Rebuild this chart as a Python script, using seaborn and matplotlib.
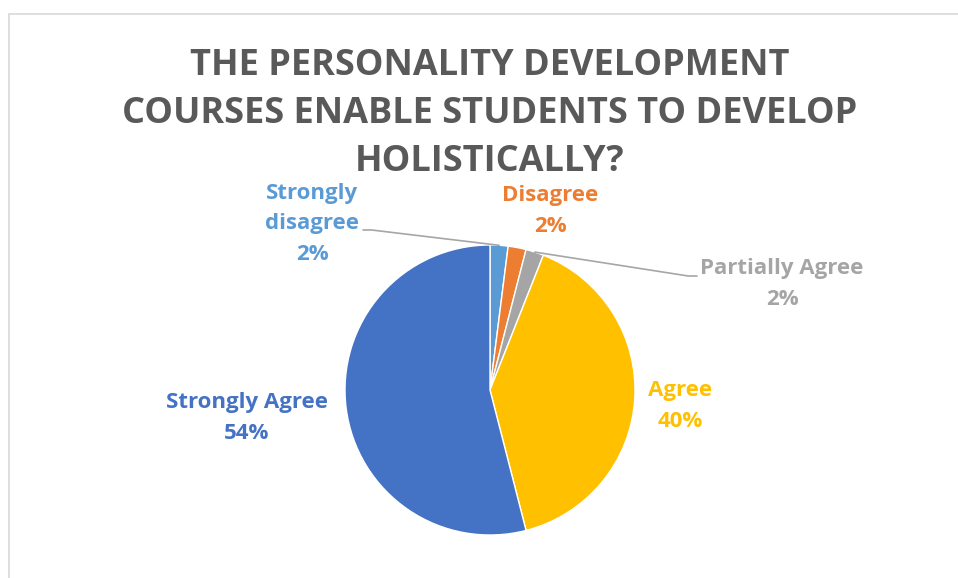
import numpy as np
import matplotlib
matplotlib.use("Agg")
import matplotlib.pyplot as plt
import seaborn as sns

# data
categories = ["Strongly disagree", "Disagree", "Partially Agree", "Agree", "Strongly Agree"]
shares = [2, 2, 2, 40, 54]
label_names = ["Strongly\ndisagree", "Disagree", "Partially Agree", "Agree", "Strongly Agree"]
colors = ["#5B9BD5", "#ED7D31", "#A5A5A5", "#FFC000", "#4472C4"]
title = "THE PERSONALITY DEVELOPMENT\nCOURSES ENABLE STUDENTS TO DEVELOP\nHOLISTICALLY?"

sns.set_theme(style="white")
plt.rcParams["font.family"] = ["Open Sans", "DejaVu Sans"]

W, H = 958, 578
fig = plt.figure(figsize=(W / 100, H / 100), dpi=100)

# chart frame
fig.patches.append(plt.Rectangle((9 / W, -0.05), 1.1, 1 - 14 / H + 0.05,
                                 transform=fig.transFigure, fill=False,
                                 edgecolor="#D9D9D9", linewidth=1.2))

cx, cy, r = 490, 390, 145
ax = fig.add_axes([(cx - r) / W, (H - cy - r) / H, 2 * r / W, 2 * r / H])
wedges, _ = ax.pie(shares, colors=colors, startangle=90, counterclock=False,
                   wedgeprops=dict(edgecolor="white", linewidth=1.0))
ax.set_xlim(-1, 1)
ax.set_ylim(-1, 1)
ax.set_aspect("equal")
ax.axis("off")

def to_data(px, py):
    return (px - cx) / r, (cy - py) / r

# label positions (pixel centres) and optional leader-line ends
label_pos = [(312, 224), (550, 211), (782, 284), (680, 406), (247, 418)]
leader_end = [(363, 230), None, (697, 276), None, None]

for w, name, val, col, pos, end in zip(wedges, label_names, shares, colors, label_pos, leader_end):
    x, y = to_data(*pos)
    ax.text(x, y, f"{name}\n{val}%", ha="center", va="center", color=col,
            fontsize=16, fontweight="bold", linespacing=1.6)
    if end is not None:
        ang = np.deg2rad((w.theta1 + w.theta2) / 2)
        ex, ey = to_data(*end)
        hx = ex + (0.06 if ex < 0 else -0.06)
        ax.plot([ex, hx, np.cos(ang)], [ey, ey, np.sin(ang)], color="#A6A6A6",
                linewidth=1.2, clip_on=False)

fig.text(490 / W, 1 - 114 / H, title, ha="center", va="center", color="#595959",
         fontsize=26, fontweight="bold", linespacing=1.45)

fig.savefig("out.png", dpi=100)
